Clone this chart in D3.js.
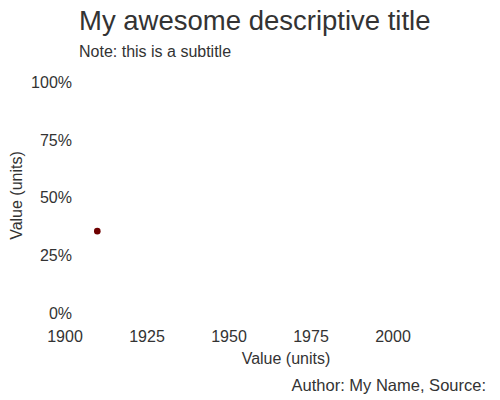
<!DOCTYPE html>
<html><head><meta charset="utf-8">
<script src="https://cdn.jsdelivr.net/npm/d3@7"></script>
<style>body{margin:0;background:#fff}svg{display:block;font-family:"Liberation Sans",Arial,sans-serif}</style>
</head><body>
<svg id="c" width="500" height="400"></svg>
<script>
const title = "My awesome descriptive title";
const subtitle = "Note: this is a subtitle";
const caption = "Author: My Name, Source:";
const xLabel = "Value (units)";
const yLabel = "Value (units)";
const xTicks = [1900, 1925, 1950, 1975, 2000];
const yTicks = [0, 0.25, 0.5, 0.75, 1];
const pointX = [1910];
const pointY = [0.355];

const svg = d3.select("#c");
const ink = "#333333";
const x = d3.scaleLinear().domain([1900, 2000]).range([64.5, 392.5]);
const y = d3.scaleLinear().domain([0, 1]).range([313, 82.5]);

svg.append("text").attr("x", 79).attr("y", 29.5).attr("font-size", 27.5).attr("fill", ink).text(title);
svg.append("text").attr("x", 79).attr("y", 56.5).attr("font-size", 16).attr("fill", ink).text(subtitle);

const yAxis = d3.axisLeft(y).tickValues(yTicks).tickFormat(d3.format(".0%")).tickSize(0).tickPadding(0);
const gy = svg.append("g").attr("transform", "translate(72,0)").call(yAxis);
gy.select(".domain").remove();
gy.selectAll("text").attr("font-size", 16).attr("fill", ink).attr("font-family", "Liberation Sans, Arial, sans-serif");

const xAxis = d3.axisBottom(x).tickValues(xTicks).tickFormat(d3.format("d")).tickSize(0).tickPadding(0);
const gx = svg.append("g").attr("transform", "translate(0,331)").call(xAxis);
gx.select(".domain").remove();
gx.selectAll("text").attr("font-size", 16).attr("fill", ink).attr("dy", "0.71em").attr("font-family", "Liberation Sans, Arial, sans-serif");

svg.append("text").attr("x", 286).attr("y", 364).attr("text-anchor", "middle").attr("font-size", 16).attr("fill", ink).text(xLabel);
svg.append("text").attr("transform", "translate(22,195.5) rotate(-90)").attr("text-anchor", "middle").attr("font-size", 16).attr("fill", ink).text(yLabel);
svg.append("text").attr("x", 486).attr("y", 391).attr("text-anchor", "end").attr("font-size", 16.5).attr("fill", ink).text(caption);

svg.append("g").selectAll("circle").data(pointX.map((d, i) => [d, pointY[i]])).join("circle")
  .attr("cx", d => x(d[0])).attr("cy", d => y(d[1])).attr("r", 3.3).attr("fill", "#6e0000");
</script>
</body></html>
